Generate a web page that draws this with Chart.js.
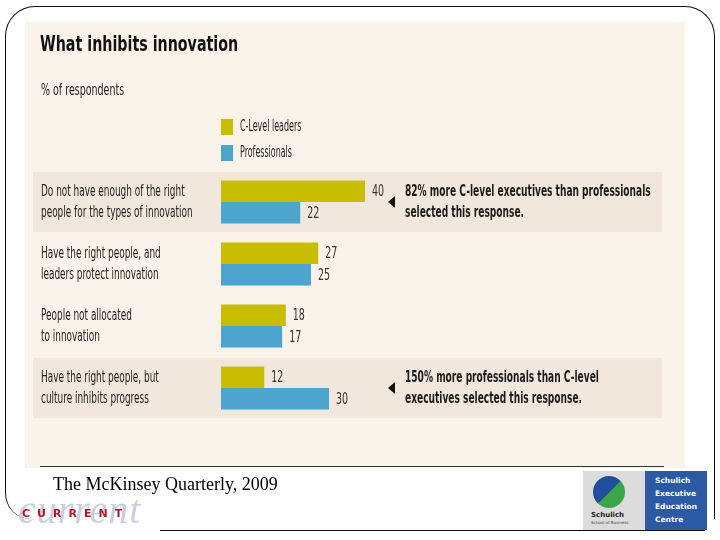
<!DOCTYPE html>
<html><head><meta charset="utf-8">
<script src="https://cdn.jsdelivr.net/npm/chart.js@4/dist/chart.umd.min.js"></script>
<style>
html,body{margin:0;padding:0;width:720px;height:540px;background:#fff;overflow:hidden;position:relative;}
.abs{position:absolute;}
#frame{left:5px;top:6px;width:708px;height:512px;border:1.5px solid #111;border-bottom:none;border-radius:30px 30px 0 26px;}
#bottomline{left:160px;top:530px;width:545px;height:0;border-top:1.5px solid #111;}
#panel{left:25px;top:22px;width:660px;height:446px;background:#faf3e9;}
#rule{left:40px;top:466px;width:624px;height:0;border-top:1.3px solid #333;}
#title{left:40px;top:31px;font:bold 22px 'DejaVu Sans Condensed','DejaVu Sans',sans-serif;color:#111;transform:scaleX(0.72);transform-origin:left top;white-space:nowrap;}
#sub{left:41px;top:80px;font:16px 'DejaVu Sans Condensed','DejaVu Sans',sans-serif;color:#222;transform:scaleX(0.66);transform-origin:left top;white-space:nowrap;}
#source{left:53px;top:474px;font:18px 'Liberation Serif','Times New Roman',serif;color:#000;white-space:nowrap;}
#cur1{left:18px;top:486px;font:italic 40px 'Liberation Serif',serif;color:#c8d0de;letter-spacing:1px;white-space:nowrap;}
#cur2{left:22px;top:507px;font:bold 11px 'DejaVu Sans',sans-serif;color:#b0182c;letter-spacing:7px;white-space:nowrap;}
#logo1{left:583px;top:471px;width:62px;height:59px;background:#dcdcdc;}
#swirl{left:10px;top:5px;width:32px;height:32px;border-radius:50%;background:linear-gradient(135deg,#1f4f9a 0%,#1f4f9a 50%,#3aa54a 50%,#3aa54a 100%);}
#logo1 .t{left:8px;top:40px;font:bold 7px 'DejaVu Sans',sans-serif;color:#222;}
#logo1 .t2{left:8px;top:49px;font:4px 'DejaVu Sans',sans-serif;color:#444;}
#logo2{left:645px;top:471px;width:62px;height:59px;background:#2c59a6;}
#logo2 div{position:absolute;left:10px;font:bold 7.5px 'DejaVu Sans',sans-serif;color:#fff;}
#c{position:absolute;left:0;top:0;}
</style></head><body>
<div id="frame" class="abs"></div>
<div id="bottomline" class="abs"></div>
<div id="panel" class="abs"></div>
<div id="rule" class="abs"></div>
<canvas id="c" width="720" height="540"></canvas>
<div id="title" class="abs">What inhibits innovation</div>
<div id="sub" class="abs">% of respondents</div>
<div id="source" class="abs">The McKinsey Quarterly, 2009</div>
<div id="cur1" class="abs">current</div>
<div id="cur2" class="abs">CURRENT</div>
<div id="logo1" class="abs"><div id="swirl" class="abs"></div><div class="abs t">Schulich</div><div class="abs t2">School of Business</div></div>
<div id="logo2" class="abs"><div style="top:5px">Schulich</div><div style="top:18px">Executive</div><div style="top:31px">Education</div><div style="top:44px">Centre</div></div>
<script>
const categories = [
  ['Do not have enough of the right', 'people for the types of innovation'],
  ['Have the right people, and', 'leaders protect innovation'],
  ['People not allocated', 'to innovation'],
  ['Have the right people, but', 'culture inhibits progress']
];
const seriesNames = ['C-Level leaders', 'Professionals'];
const cLevelValues = [40, 27, 18, 12];
const professionalValues = [22, 25, 17, 30];
const shadedRows = [0, 3];
const annotationRows = [0, 3];
const annotationTexts = [
  ['82% more C-level executives than professionals', 'selected this response.'],
  ['150% more professionals than C-level', 'executives selected this response.']
];

const FONT = "'DejaVu Sans Condensed','DejaVu Sans',sans-serif";
const COLORS = ['#c8bd00', '#4ba5cf'];

function scaledText(ctx, text, x, y, sx) {
  ctx.save(); ctx.translate(x, y); ctx.scale(sx, 1); ctx.fillText(text, 0, 0); ctx.restore();
}

const decor = {
  id: 'decor',
  beforeDraw(chart) {
    const { ctx, scales: { y } } = chart;
    const step = y.getPixelForValue(1) - y.getPixelForValue(0);
    ctx.save();
    ctx.fillStyle = '#f1e7dc';
    shadedRows.forEach(i => {
      const c = y.getPixelForValue(i);
      ctx.fillRect(33, c - step / 2 + 1, 629, step - 2);
    });
    ctx.restore();
  },
  afterDatasetsDraw(chart) {
    const { ctx, chartArea, scales: { x, y } } = chart;
    ctx.save();
    ctx.textBaseline = 'middle';
    // category labels (condensed)
    ctx.font = '16px ' + FONT;
    ctx.fillStyle = '#222';
    chart.data.labels.forEach((lab, i) => {
      const c = y.getPixelForValue(i);
      const lines = Array.isArray(lab) ? lab : [lab];
      lines.forEach((ln, li) => {
        scaledText(ctx, ln, y.left, c + (li - (lines.length - 1) / 2) * 21, 0.62);
      });
    });
    // value labels
    ctx.font = '16px ' + FONT;
    ctx.fillStyle = '#333';
    chart.data.datasets.forEach((ds, di) => {
      chart.getDatasetMeta(di).data.forEach((el, i) => {
        scaledText(ctx, String(ds.data[i]), el.x + 7, el.y + 1, 0.66);
      });
    });
    // legend
    chart.data.datasets.forEach((ds, di) => {
      const top = chartArea.top - 52 + di * 26;
      ctx.fillStyle = ds.backgroundColor;
      ctx.fillRect(chartArea.left, top, 12, 16);
      ctx.fillStyle = '#222';
      ctx.font = '15px ' + FONT;
      scaledText(ctx, ds.label, chartArea.left + 19, top + 8, 0.59);
    });
    // annotations
    const ax = x.getPixelForValue(x.max);
    annotationRows.forEach((row, k) => {
      const c = y.getPixelForValue(row);
      ctx.fillStyle = '#111';
      ctx.beginPath();
      ctx.moveTo(ax - 13, c);
      ctx.lineTo(ax - 6, c - 6);
      ctx.lineTo(ax - 6, c + 6);
      ctx.closePath();
      ctx.fill();
      ctx.font = 'bold 16px ' + FONT;
      ctx.fillStyle = '#1a1a1a';
      annotationTexts[k].forEach((line, li) => {
        scaledText(ctx, line, ax + 4, c - 10 + li * 20.5, 0.63);
      });
    });
    ctx.restore();
  }
};

new Chart(document.getElementById('c'), {
  type: 'bar',
  data: {
    labels: categories,
    datasets: [
      { label: seriesNames[0], data: cLevelValues, backgroundColor: COLORS[0] },
      { label: seriesNames[1], data: professionalValues, backgroundColor: COLORS[1] }
    ]
  },
  options: {
    indexAxis: 'y',
    responsive: false,
    animation: false,
    events: [],
    layout: { padding: { left: 41, top: 171, right: 319, bottom: 121 } },
    categoryPercentage: 0.69,
    barPercentage: 1,
    plugins: { legend: { display: false }, title: { display: false }, tooltip: { enabled: false } },
    scales: {
      x: { display: false, min: 0, max: 50 },
      y: {
        grid: { display: false },
        border: { display: false },
        ticks: { display: false },
        afterFit(scale) { scale.width = 180; }
      }
    }
  },
  plugins: [decor]
});
</script>
</body></html>
